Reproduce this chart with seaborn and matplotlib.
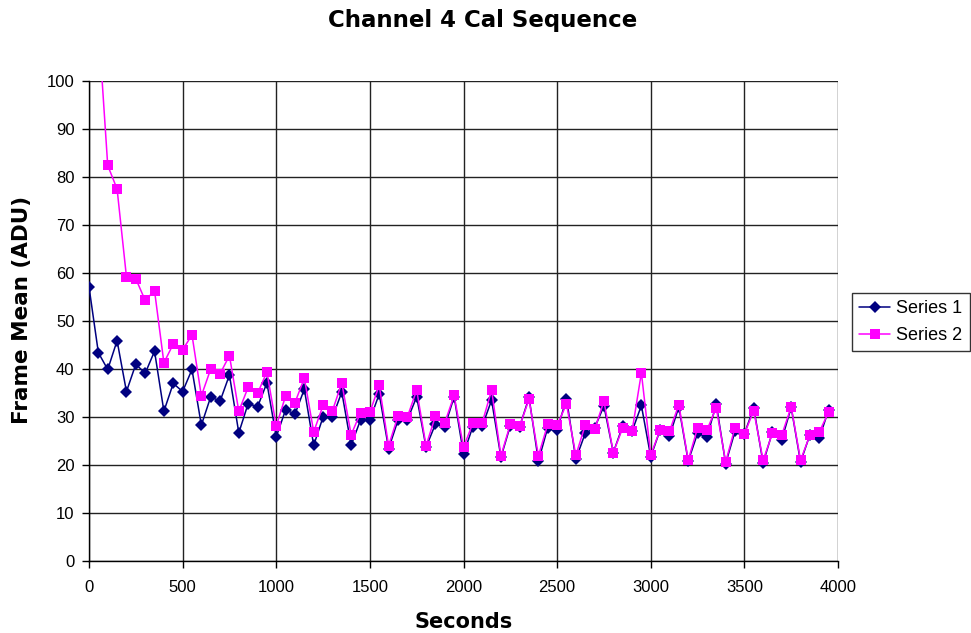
import numpy as np
import pandas as pd
import matplotlib
matplotlib.use("Agg")
import matplotlib.pyplot as plt
import seaborn as sns

seconds_1 = list(range(0, 4000, 50))
series_1 = [57.1, 43.4, 39.9, 45.9, 35.3, 41.0, 39.1, 43.7, 31.2, 37.0, 35.3, 39.9, 28.3, 34.2, 33.3, 38.75, 26.7, 32.8, 32.1, 37.1,
            25.9, 31.5, 30.6, 35.8, 24.1, 30.0, 29.9, 35.2, 24.1, 29.4, 29.4, 34.8, 23.4, 29.3, 29.4, 34.2, 23.7, 28.5, 28.0, 34.2,
            22.3, 28.0, 28.1, 33.5, 21.6, 28.2, 28.0, 34.1, 20.8, 27.8, 27.3, 33.8, 21.2, 26.6, 27.7, 32.3, 22.6, 28.1, 27.0, 32.4,
            21.7, 27.3, 26.0, 32.1, 20.8, 26.6, 25.8, 32.7, 20.3, 27.0, 26.5, 31.9, 20.4, 26.9, 25.3, 32.0, 20.6, 26.3, 25.6, 31.5]

seconds_2 = list(range(50, 4000, 50))
series_2 = [112.0, 82.4, 77.5, 59.2, 58.8, 54.3, 56.3, 41.3, 45.2, 44.0, 47.1, 34.4, 40.0, 39.0, 42.8, 31.2, 36.2, 34.9, 39.4,
            28.1, 34.4, 33.0, 38.1, 26.9, 32.4, 31.3, 37.1, 26.3, 30.9, 31.0, 36.6, 24.0, 30.2, 30.0, 35.6, 24.0, 30.2, 28.8, 34.5,
            23.7, 28.7, 28.8, 35.6, 21.9, 28.5, 28.1, 33.7, 21.9, 28.5, 28.3, 32.7, 22.0, 28.3, 27.4, 33.3, 22.6, 27.7, 27.0, 39.2,
            22.1, 27.3, 27.0, 32.6, 21.0, 27.7, 27.3, 31.9, 20.6, 27.8, 26.5, 31.3, 21.0, 26.6, 26.3, 32.1, 21.0, 26.2, 26.9, 31.0]

df = pd.concat([
    pd.DataFrame({"Seconds": seconds_1, "value": series_1, "series": "Series 1"}),
    pd.DataFrame({"Seconds": seconds_2, "value": series_2, "series": "Series 2"}),
], ignore_index=True)

sns.set_theme(style="white")
plt.rcParams["font.family"] = ["Liberation Sans", "DejaVu Sans"]
for k in ["text.color", "axes.labelcolor", "xtick.color", "ytick.color"]:
    plt.rcParams[k] = "black"

fig = plt.figure(figsize=(9.71, 6.33), dpi=100)
ax = fig.add_axes([89/971, 1-561/633, (838-89)/971, (561-81)/633])

palette = {"Series 1": "#000080", "Series 2": "#FF00FF"}
markers = {"Series 1": "D", "Series 2": "s"}
sns.lineplot(data=df, x="Seconds", y="value", hue="series", style="series",
             palette=palette, markers=markers, dashes=False, markersize=6.5,
             markeredgewidth=0, linewidth=1.1, ax=ax, legend=True, zorder=3)

ax.set_xlim(0, 4000)
ax.set_ylim(0, 100)
ax.set_xticks(range(0, 4001, 500))
ax.set_yticks(range(0, 101, 10))
ax.grid(True, color="#222222", linewidth=1.0)
ax.set_axisbelow(True)
for side in ["top", "right"]:
    ax.spines[side].set_visible(False)
for side in ["left", "bottom"]:
    ax.spines[side].set_color("black")
    ax.spines[side].set_linewidth(1.0)
ax.tick_params(axis="both", which="major", direction="out", length=5, width=1,
               color="black", labelsize=12, bottom=True, left=True)
ax.tick_params(axis="x", pad=9)
ax.tick_params(axis="y", pad=5.5)

ax.set_xlabel("")
ax.set_ylabel("")
bold_family = ["DejaVu Sans"]
fig.text(464/971, 1-622/633, "Seconds", ha="center", va="center",
         fontsize=15, fontweight="bold", family=bold_family)
fig.text(22/971, 1-310/633, "Frame Mean (ADU)", ha="center", va="center",
         rotation=90, fontsize=15.5, fontweight="bold", family=bold_family)
fig.text(483/971, 1-20/633, "Channel 4 Cal Sequence", ha="center", va="center",
         fontsize=16.5, fontweight="bold", family=bold_family)

handles, labels = ax.get_legend_handles_labels()
ax.legend(handles=handles, labels=labels, loc="upper left",
          bbox_to_anchor=(852/971, 1-293/633), bbox_transform=fig.transFigure,
          frameon=True, fancybox=False, edgecolor="black", fontsize=13,
          borderaxespad=0, handlelength=1.7, borderpad=0.4, labelspacing=0.55,
          handletextpad=0.35)
ax.get_legend().get_frame().set_linewidth(1.0)

fig.savefig("out.png", dpi=100, facecolor="white")
